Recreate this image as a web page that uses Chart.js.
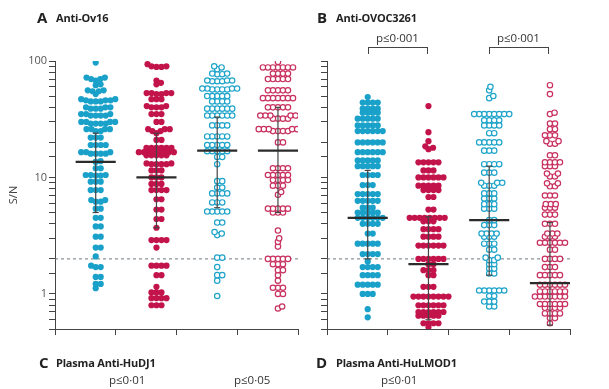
<!DOCTYPE html>
<html><head><meta charset="utf-8">
<script src="https://cdn.jsdelivr.net/npm/chart.js@4.4.0/dist/chart.umd.min.js"></script>
<style>
body{margin:0;background:#fff;width:609px;height:389px;position:relative;overflow:hidden;font-family:"Open Sans",sans-serif;color:#222}
canvas{position:absolute;top:0}
.t{position:absolute;white-space:nowrap;line-height:1}
.L{font-size:15px;font-weight:700}
.h{font-size:11px;font-weight:700;letter-spacing:-0.2px}
.p{font-size:11.5px;color:#333}
.br{position:absolute;border:1px solid #444;border-bottom:none;height:6px}
</style></head><body>
<canvas id="ca" width="305" height="389" style="left:0"></canvas>
<canvas id="cb" width="309" height="389" style="left:300px"></canvas>

<div class="t L" style="left:37px;top:10px">A</div>
<div class="t h" style="left:56px;top:12px">Anti-Ov16</div>
<div class="t L" style="left:317px;top:10px">B</div>
<div class="t h" style="left:336px;top:12px">Anti-OVOC3261</div>
<div class="t p" style="left:376px;top:32px">p≤0·001</div>
<div class="t p" style="left:497px;top:32px">p≤0·001</div>
<div class="br" style="left:368px;top:47px;width:58px"></div>
<div class="br" style="left:489px;top:47px;width:58px"></div>
<div class="t L" style="left:39px;top:355px">C</div>
<div class="t h" style="left:56px;top:357px">Plasma Anti-HuDJ1</div>
<div class="t p" style="left:109px;top:374px">p≤0·01</div>
<div class="t p" style="left:234px;top:374px">p≤0·05</div>
<div class="t L" style="left:316px;top:355px">D</div>
<div class="t h" style="left:336px;top:357px">Plasma Anti-HuLMOD1</div>
<div class="t p" style="left:381px;top:374px">p≤0·01</div>

<script>
// S/N values, one per point
const ov16Neg = [97,72,72,70,70,68,63,62,56,56,55,55,52,47,47,46,46,46,45,45,45,40,40,40,39,39,39,
  35,35,35,34,34,34,34,30,30,30,30,29,29,29,29,26,26,26,26,25,25,22,22,22,19,19,19,19,
  16.5,16.5,16.5,16,16,16,16,13.8,13.6,12,12,10.5,10.5,10.5,10.4,10.4,9.2,9.2,9.2,7.8,7.8,7.8,
  6.4,6.4,6.2,6.2,5.4,5.4,4.5,4.5,3.8,3.8,3.1,3.1,2.5,2.5,2.1,1.75,1.7,1.7,1.4,1.4,1.22,1.22,1.12];
const ov16Pos = [94,90,89,89,90,68,65,63,53,53,53,53,52,52,47,47,47,41,41,40,40,40,35,35,35,30,30,
  26,26,26,25,25,24,21,21,18,18,18,18,18,18,16.5,16.5,16.5,16.5,16.5,16.5,16.5,16.5,
  15.5,15.5,15.5,15.5,15.5,13.2,13.2,13,13,13,13,11.5,11.5,11.5,10,10,10,8.8,8.8,8.8,
  7.8,7.8,7.8,7.8,6.5,6.5,5.3,5.3,4.4,4.4,3.7,2.9,2.9,2.9,2.9,2.5,1.75,1.75,1.75,1.75,
  1.45,1.45,1.15,1.03,1.03,1.03,0.92,0.92,0.92,0.92,0.8,0.8,0.8];
const ov16NegB = [90,88,85,78,78,77,77,68,68,68,67,67,67,58,58,58,58,57,57,57,57,50,50,50,50,50,
  45,45,45,45,39,39,39,39,39,39,34,34,34,34,34,34,28,28,28,28,22.5,22.5,22.5,22.5,22.5,
  19,19,19,19,19,16.8,16.8,16.8,16.8,16.8,15,15,13,9.3,9.3,8.2,8.2,7.3,7.3,7.3,7.3,
  6.1,6.1,6.1,5.1,5.1,5.1,5.1,5.1,4.1,4.1,3.4,3.3,3.2,2.05,2.05,1.7,1.45,1.45,1.3,0.96];
const ov16PosB = [98,88,88,88,88,88,88,88,78,78,78,78,70,70,70,70,70,56,56,56,56,56,
  48,48,48,48,48,48,48,40,40,40,40,40,34,34,34,34,34,32,32,32,32,26,26,26,26,26,26,25,25,25,25,
  20,20,12,12,12,12,10.5,10.5,10.5,10.5,10.5,9.5,9.5,9.5,9.5,8.5,8.5,8.5,7.5,7.1,
  5.4,5.4,5.4,5.4,5.4,5,5,5,3.5,3.0,2.8,2.55,2,2,2,2,2,1.8,1.8,1.8,1.6,1.6,1.45,1.3,
  1.13,1.13,1.13,1,1,0.78,0.75];

const ovocNeg = [49,44,44,44,44,39,39,39,39,36,36,36,36,32,32,32,32,32,28,28,28,28,28,
  25,25,25,25,25,25,20,20,20,20,20,20,16.5,16.5,16.5,16.5,16.5,16.5,14,14,14,14,14,
  12.5,12.5,12.5,12.5,12.5,10.5,10.5,10.5,10.5,8.6,8.6,8.6,7.2,7.2,7.2,7.2,7.2,
  6.3,6.3,6.3,6.3,6.3,5.5,5.5,5.5,5,5,5,5,5,4.5,4.5,4.5,4.5,4.5,4.5,4,4,4,4,3.3,3.3,
  2.7,2.7,2.7,2.7,2.7,2.2,2.2,2.2,2.2,1.9,1.7,1.7,1.7,1.7,1.45,1.45,1.45,1.45,
  1.2,1.2,1.2,1.2,1.2,1,1,1,0.74,0.63];
const ovocPos = [41,24.5,20.5,18.5,18,17.5,13.5,13.5,13.5,13.5,13.5,11.5,11.5,11.5,
  10,10,10,10,10,10,8.5,8.5,8.5,8.5,8.5,7.8,7.8,7.8,7.8,6.8,6.8,5.3,5.3,
  4.5,4.5,4.5,4.5,4.5,4.5,4.5,4.5,4.2,4.2,4.2,3.6,3.6,3.6,3.6,3.1,3.1,3.1,3.1,
  2.6,2.6,2.6,2.6,2.6,2.6,2,2,2,2,2,2,1.8,1.8,1.6,1.6,1.6,1.45,1.45,1.15,1.15,1.15,
  0.95,0.95,0.95,0.95,0.95,0.95,0.95,0.95,0.8,0.8,0.8,0.8,0.8,0.8,
  0.7,0.7,0.7,0.7,0.7,0.7,0.65,0.65,0.65,0.65,0.65,0.56,0.56,0.56,0.56,0.52];
const ovocNegB = [60,56,50,48,35,35,35,35,35,35,35,35,31,31,31,31,28,28,28,28,24,24,
  20,20,20,20,20,17,17,17,13,13,13,13,11,11,11,9,9,9,8.5,8.5,8.5,7.3,7.3,7.3,6.6,6.6,6.6,
  5.9,5.9,5.9,5.4,5.4,5.4,4.3,4.3,3.9,3.9,3.9,3.3,3.3,3.3,3.3,3.1,3.1,3.1,2.7,2.7,2.7,
  2.4,2.4,2.05,2.05,1.95,1.95,1.8,1.8,1.65,1.65,1.5,1.5,
  1.07,1.07,1.07,1.07,1.07,1.07,0.96,0.96,0.86,0.86,0.86,0.78,0.78];
const ovocPosB = [62,52,36,35,29,29,26,26,23,23,23,20.5,20.5,19.5,19.5,15.5,15.5,
  13.5,13.5,13.5,13.5,12.5,12.5,12.5,10.8,10.8,10.2,10.2,8.9,8.9,8.4,8.4,7,7,7,
  5.9,5.9,5.9,5.5,5.5,5.5,4.8,4.8,4.8,4,4,4,3.3,3.3,3.3,3.1,3.1,3.1,
  2.75,2.75,2.75,2.75,2.75,2.75,2.4,2.4,2,2,2,2,1.7,1.7,1.7,1.45,1.45,1.45,1.45,1.45,
  1.2,1.2,1.2,1.2,1.2,1.2,1.05,1.05,1.05,1.05,1.05,1.05,0.95,0.95,0.95,0.95,0.95,0.95,0.95,
  0.82,0.82,0.82,0.82,0.82,0.82,0.76,0.76,0.76,0.76,0.68,0.68,0.68,0.68,0.62,0.62,0.56];

// median, lower and upper bar ends
const statsA = [[13.6, 5.0, 24], [10, 3.7, 24], [17, 5.5, 33], [17, 5.0, 40]];
const statsB = [[4.5, 2.0, 11.5], [1.8, 0.6, 4.6], [4.3, 1.45, 12.5], [1.24, 0.54, 4.1]];
const cutoff = 2;

const colours = ['#1aa1c9', '#c2134b', '#1ea4ca', '#c8305f'];
const hollow = [false, false, true, true];
const centres = [0.67, 1.67, 2.67, 3.67];

// pixel scale of the plot area, used only to lay the dots out side by side
const PX_UNIT = 243 / 4, PX_DECADE = 268 / Math.log10(200), GAP_X = 5.0, GAP_Y = 3.6;

function swarm(vals, centre) {
  const placed = [];
  const clash = (p, x, y) => ((p.x - x) / GAP_X) ** 2 + ((p.y - y) / GAP_Y) ** 2 < 0.999;
  return vals.slice().sort((a, b) => a - b).map(v => {
    const y = Math.log10(v) * PX_DECADE;
    const cands = [0];
    placed.forEach(p => {
      const dy = Math.abs(p.y - y);
      if (dy < GAP_Y) {
        const w = GAP_X * Math.sqrt(1 - (dy / GAP_Y) ** 2);
        cands.push(p.x + w + 0.01, p.x - w - 0.01);
      }
    });
    cands.sort((a, b) => Math.abs(a) - Math.abs(b));
    const x = cands.find(c => !placed.some(p => clash(p, c, y)));
    placed.push({x, y});
    return {x: centre + x / PX_UNIT, y: v};
  });
}

function line(pts, width, colour, dash) {
  return {data: pts, showLine: true, pointRadius: 0, borderColor: colour,
          borderWidth: width, borderDash: dash || [], fill: false};
}

function panel(id, groups, stats, labels, yWidth, padRight) {
  const ds = [];
  stats.forEach((s, i) => {
    const c = centres[i], cap = 0.05;
    ds.push(line([{x: c - 0.33, y: s[0]}, {x: c + 0.33, y: s[0]}], 2.2, '#2b2b2b'));
    ds.push(line([{x: c, y: s[1]}, {x: c, y: s[2]}], 1.2, '#444'));
    ds.push(line([{x: c - cap, y: s[1]}, {x: c + cap, y: s[1]}], 1.2, '#444'));
    ds.push(line([{x: c - cap, y: s[2]}, {x: c + cap, y: s[2]}], 1.2, '#444'));
  });
  groups.forEach((g, i) => {
    ds.push({
      data: swarm(g, centres[i]),
      pointRadius: hollow[i] ? 2.7 : 3.1,
      backgroundColor: hollow[i] ? '#fff' : colours[i],
      borderColor: colours[i],
      borderWidth: hollow[i] ? 1.2 : 0
    });
  });
  ds.push(line([{x: 0, y: cutoff}, {x: 4, y: cutoff}], 1, '#6d7b82', [3, 3]));

  new Chart(document.getElementById(id), {
    type: 'scatter',
    data: {datasets: ds},
    options: {
      responsive: false,
      animation: false,
      layout: {padding: {top: 61, right: padRight, bottom: 50, left: 0}},
      plugins: {legend: {display: false}, tooltip: {enabled: false}},
      scales: {
        x: {
          type: 'linear', min: 0, max: 4,
          ticks: {stepSize: 1, callback: () => ''},
          grid: {drawOnChartArea: false, tickLength: 6, color: '#444'},
          border: {color: '#444'},
          afterFit: s => { s.height = 10; }
        },
        y: {
          type: 'logarithmic', min: 0.5, max: 100,
          ticks: {
            autoSkip: false, padding: 2, color: '#555',
            font: {family: 'Open Sans', size: 11},
            callback: v => (labels && [1, 10, 100].includes(v)) ? String(v) : ''
          },
          grid: {drawOnChartArea: false, tickLength: 6, color: '#444'},
          border: {color: '#444'},
          title: {display: labels, text: 'S/N', color: '#444', font: {family: 'Open Sans', size: 11}, padding: {top: 7, bottom: 0}},
          afterFit: s => { s.width = yWidth; }
        }
      }
    }
  });
}

panel('ca', [ov16Neg, ov16Pos, ov16NegB, ov16PosB], statsA, true, 55, 7);
panel('cb', [ovocNeg, ovocPos, ovocNegB, ovocPosB], statsB, false, 27, 39);
</script>
</body></html>
